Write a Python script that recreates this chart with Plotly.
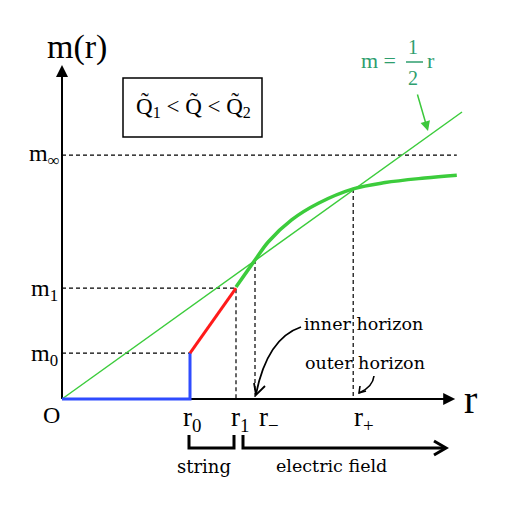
import plotly.graph_objects as go

# ---- data (r, m units) ----
r0, r1, r_minus, r_plus = 3.2, 4.35, 4.825, 7.28
m0, m1, m_inf = 0.80, 1.93, 4.25
r_axis_end, m_axis_end = 9.83, 5.82
line_r = [0.0, 10.0]                      # m = r/2 reference line
string_r = [0.0, r0, r0]
string_m = [0.0, 0.0, m0]
red_r = [r0, r1]
red_m = [m0, m1]
curve_r = [4.35, 4.825, 5.16, 5.74, 6.41, 7.28, 8.08, 9.07, 9.87]
curve_m = [1.95, 2.42, 2.74, 3.12, 3.41, 3.66, 3.77, 3.85, 3.90]
m_at_rminus = 2.42
m_at_rplus = 3.66
dash_inf_r = [0.0, 9.87]

OFF = 8                     # browser body margin
W, H = 520 - OFF, 508 - OFF
X0, Y0, SX, SY = 62 - OFF, 399 - OFF, 40.0, 57.4
xr = [(0 - X0) / SX, (W - X0) / SX]
yr = [(Y0 - H) / SY, Y0 / SY]

def P(x, y):
    return (x - OFF) / W, 1 - (y - OFF) / H

def path(pts):
    s = ""
    for i, (x, y) in enumerate(pts):
        px, py = P(x, y)
        s += ("M" if i == 0 else "L") + f"{px:.5f},{py:.5f} "
    return s

fig = go.Figure()
BLACK = "black"
GREEN = "#3ccc3c"
dash = "4px,3px"

def add(x, y, color, width, d=None):
    fig.add_trace(go.Scatter(x=x, y=y, mode="lines",
                             line=dict(color=color, width=width, dash=d),
                             hoverinfo="skip", showlegend=False))

# axes
add([0, 0], [0, m_axis_end - 0.15], BLACK, 2)
add([0, r_axis_end - 0.2], [0, 0], BLACK, 2)
# dashed guides
add(dash_inf_r, [m_inf, m_inf], BLACK, 1.2, dash)
add([0, r1, r1], [m1, m1, 0], BLACK, 1.2, dash)
add([0, r0], [m0, m0], BLACK, 1.2, dash)
add([r_minus, r_minus], [m_at_rminus, 0], BLACK, 1.2, dash)
add([r_plus, r_plus], [m_at_rplus, 0], BLACK, 1.2, dash)
# m = r/2
add(line_r, [v / 2 for v in line_r], GREEN, 1.5)
# string, red, green curve
add(string_r, string_m, "#2f4cff", 3)
add(red_r, red_m, "#ff1a1a", 3)
fig.add_trace(go.Scatter(x=curve_r, y=curve_m, mode="lines",
                         line=dict(color=GREEN, width=3.5, shape="spline"),
                         hoverinfo="skip", showlegend=False))

ann = []
# axis arrowheads
ann.append(dict(x=0, y=m_axis_end, ax=0, ay=m_axis_end - 0.3, xref="x", yref="y",
                axref="x", ayref="y", showarrow=True, arrowhead=2, arrowsize=1.2,
                arrowwidth=2, arrowcolor=BLACK, text=""))
ann.append(dict(x=r_axis_end, y=0, ax=r_axis_end - 0.4, ay=0, xref="x", yref="y",
                axref="x", ayref="y", showarrow=True, arrowhead=2, arrowsize=1.2,
                arrowwidth=2, arrowcolor=BLACK, text=""))

SERIF = "DejaVu Serif"
TIMES = "Liberation Serif"

def txt(t, x, y, size, color=BLACK, xanchor="center", family=TIMES):
    px, py = P(x, y)
    ann.append(dict(text=t, x=px, y=py, xref="paper", yref="paper",
                    showarrow=False, xanchor=xanchor, yanchor="middle",
                    font=dict(family=family, size=size, color=color)))

def arrow(head, tail, color, width, head_style, size=1.0):
    hx, hy = P(*head)
    ann.append(dict(x=hx, y=hy, ax=tail[0] - head[0], ay=tail[1] - head[1],
                    xref="paper", yref="paper", axref="pixel", ayref="pixel",
                    showarrow=True, arrowhead=head_style, arrowsize=size,
                    arrowwidth=width, arrowcolor=color, text=""))

txt("m(r)", 77, 47, 34)
txt("Q\u0303<sub>1</sub> < Q\u0303 < Q\u0303<sub>2</sub>", 193, 107, 23)
txt("m<sub>∞</sub>", 44, 155, 24)
txt("m<sub>1</sub>", 44, 290, 24)
txt("m<sub>0</sub>", 44, 355, 24)
txt("O", 51, 415, 24)
txt("r<sub>0</sub>", 192, 419, 27)
txt("r<sub>1</sub>", 240, 419, 27)
txt("r<sub>−</sub>", 269, 419, 27)
txt("r<sub>+</sub>", 364, 419, 27)
txt("r", 470, 399, 40)
txt("inner horizon", 302, 324, 17.5, xanchor="left", family=SERIF)
txt("outer horizon", 303, 363, 17.5, xanchor="left", family=SERIF)
txt("string", 204, 466, 18, family=SERIF)
txt("electric field", 331, 466, 17.5, family=SERIF)
TEAL = "#2e9e6e"
txt("m =", 378, 61, 22, TEAL)
txt("1", 413, 47, 20, TEAL)
txt("2", 413, 78, 20, TEAL)
txt("r", 431, 61, 22, TEAL)

# green pointer arrow
arrow((428, 131), (417, 93), "#3cc83c", 1.5, 2, 1.3)

shapes = []
def shp(d, width=1.5, color=BLACK):
    shapes.append(dict(type="path", path=d, xref="paper", yref="paper",
                       line=dict(color=color, width=width)))

# box
bx0, by0 = P(123, 78)
bx1, by1 = P(262, 137)
shapes.append(dict(type="rect", x0=bx0, y0=by0, x1=bx1, y1=by1, xref="paper",
                   yref="paper", line=dict(color=BLACK, width=1.5)))
# fraction bar
shp(path([(406, 62), (423, 62)]), 1.5, TEAL)
# brackets
shp(path([(189, 435), (189, 448), (234, 448), (234, 435)]), 3)
shp(path([(243, 435), (243, 448), (445, 448)]), 3)
shp(path([(434, 441), (446, 448), (434, 455)]), 3)

# curved arrows
def cpath(p0, c1, c2, p1):
    a = P(*p0); b = P(*c1); c = P(*c2); d = P(*p1)
    return (f"M{a[0]:.5f},{a[1]:.5f} C{b[0]:.5f},{b[1]:.5f} "
            f"{c[0]:.5f},{c[1]:.5f} {d[0]:.5f},{d[1]:.5f}")

shp(cpath((301, 327), (280, 334), (264, 355), (256, 394)), 1.8)
shp(path([(254, 383), (256, 395), (265, 386)]), 1.8)
shp(cpath((374, 376), (373, 385), (366, 390), (359, 393)), 1.6)
shp(path([(360, 386), (359, 393), (366, 391)]), 1.6)

fig.update_layout(
    width=W, height=H, margin=dict(l=0, r=0, t=0, b=0),
    paper_bgcolor="white", plot_bgcolor="white",
    xaxis=dict(range=xr, visible=False, fixedrange=True),
    yaxis=dict(range=yr, visible=False, fixedrange=True),
    annotations=ann, shapes=shapes, showlegend=False,
)
fig.write_html("out.html")
